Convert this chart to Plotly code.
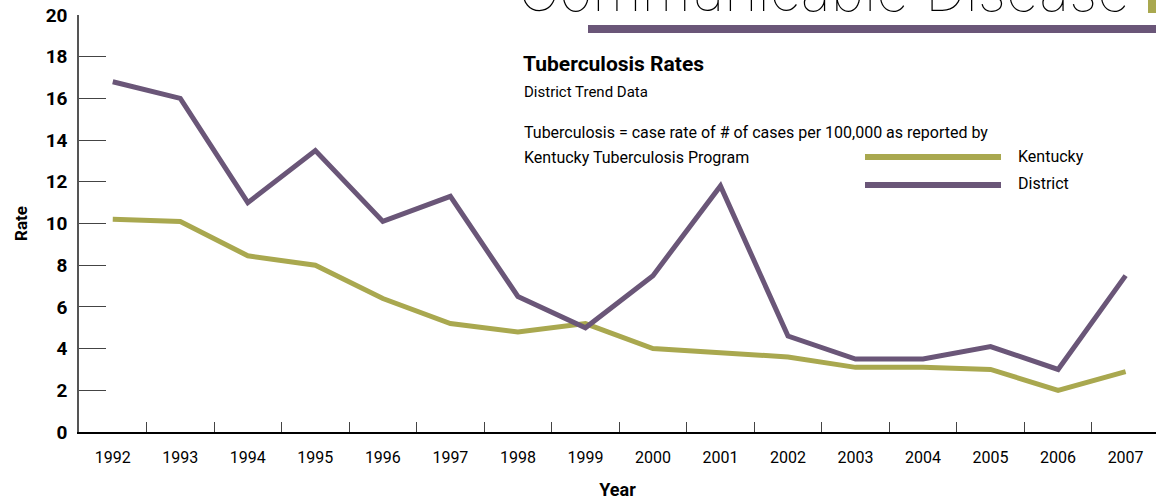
import plotly.graph_objects as go

years = [str(y) for y in range(1992, 2008)]
district = [16.8, 16.0, 11.0, 13.5, 10.1, 11.3, 6.5, 5.0, 7.5, 11.8, 4.6, 3.5, 3.5, 4.1, 3.0, 7.5]
kentucky = [10.2, 10.1, 8.45, 8.0, 6.4, 5.2, 4.8, 5.2, 4.0, 3.8, 3.6, 3.1, 3.1, 3.0, 2.0, 2.9]
y_ticks = list(range(0, 21, 2))

PURPLE = "#6a5678"
OLIVE = "#a9a84f"
FONT = "Roboto, Arial"

fig = go.Figure()
fig.add_trace(go.Scatter(x=years, y=kentucky, mode="lines", name="Kentucky",
                         line=dict(color=OLIVE, width=5), showlegend=False))
fig.add_trace(go.Scatter(x=years, y=district, mode="lines", name="District",
                         line=dict(color=PURPLE, width=5), showlegend=False))

fig.update_layout(
    width=1156, height=500,
    margin=dict(l=79, r=0, t=15, b=68, autoexpand=False),
    plot_bgcolor="white", paper_bgcolor="white",
    font=dict(family=FONT, color="black"),
    xaxis=dict(type="category", range=[-0.5, 15.45], tickson="boundaries", automargin=False,
               ticks="inside", ticklen=10, tickcolor="#444", showline=True,
               linecolor="black", linewidth=1.5, showgrid=False, zeroline=False,
               tickfont=dict(size=16, family=FONT), ticklabelstandoff=10,
               title=dict(text="<b>Year</b>", font=dict(size=18, family=FONT), standoff=22)),
    yaxis=dict(range=[0, 20], tickvals=y_ticks, ticks="inside", ticklen=27, automargin=False,
               tickcolor="#444", showline=True, linecolor="#555", linewidth=1.5,
               showgrid=False, zeroline=False,
               tickfont=dict(size=19, family=FONT, weight="bold"), ticklabelstandoff=6,
               title=dict(text="<b>Rate</b>", font=dict(size=17, family=FONT), standoff=14)),
)

def px_y(p):
    return 1 - (p - 15) / 417

def px_x(p):
    return (p - 79) / 1077

# header decoration
fig.add_annotation(xref="paper", yref="paper", x=px_x(516), y=1.0, xanchor="left", yanchor="bottom",
                   yshift=-12, text="Communicable Disease", showarrow=False,
                   font=dict(size=57, family="Inter, Lato, sans-serif", weight=100, color="black"))
fig.add_shape(type="rect", xref="paper", yref="paper", x0=px_x(588), x1=1.01,
              y0=px_y(33), y1=px_y(25),
              fillcolor=PURPLE, line=dict(width=0), layer="above")
fig.add_shape(type="rect", xref="paper", yref="paper", x0=px_x(1148), x1=1.01,
              y0=px_y(13), y1=1.06, fillcolor=OLIVE, line=dict(width=0), layer="above")

# title block
fig.add_annotation(xref="paper", yref="paper", x=px_x(521), y=px_y(64), xanchor="left", yanchor="middle",
                   text="<b>Tuberculosis Rates</b>", showarrow=False, font=dict(size=21, family=FONT))
fig.add_annotation(xref="paper", yref="paper", x=px_x(522), y=px_y(92), xanchor="left", yanchor="middle",
                   text="District Trend Data", showarrow=False, font=dict(size=15, family=FONT))
fig.add_annotation(xref="paper", yref="paper", x=px_x(522), y=px_y(132), xanchor="left", yanchor="middle",
                   text="Tuberculosis = case rate of # of cases per 100,000 as reported by",
                   showarrow=False, font=dict(size=16, family=FONT))
fig.add_annotation(xref="paper", yref="paper", x=px_x(522), y=px_y(157), xanchor="left", yanchor="middle",
                   text="Kentucky Tuberculosis Program", showarrow=False, font=dict(size=16, family=FONT))

# legend
for name, color, py in [("Kentucky", OLIVE, 157), ("District", PURPLE, 185)]:
    fig.add_shape(type="line", xref="paper", yref="paper", x0=px_x(865), x1=px_x(1001),
                  y0=px_y(py), y1=px_y(py), line=dict(color=color, width=6))
    fig.add_annotation(xref="paper", yref="paper", x=px_x(1016), y=px_y(py - 1), xanchor="left",
                       yanchor="middle", text=name, showarrow=False, font=dict(size=16, family=FONT))

fig.write_html("out.html", config={"displayModeBar": False},
               post_script="document.body.style.margin='0';document.body.style.overflow='hidden';")
